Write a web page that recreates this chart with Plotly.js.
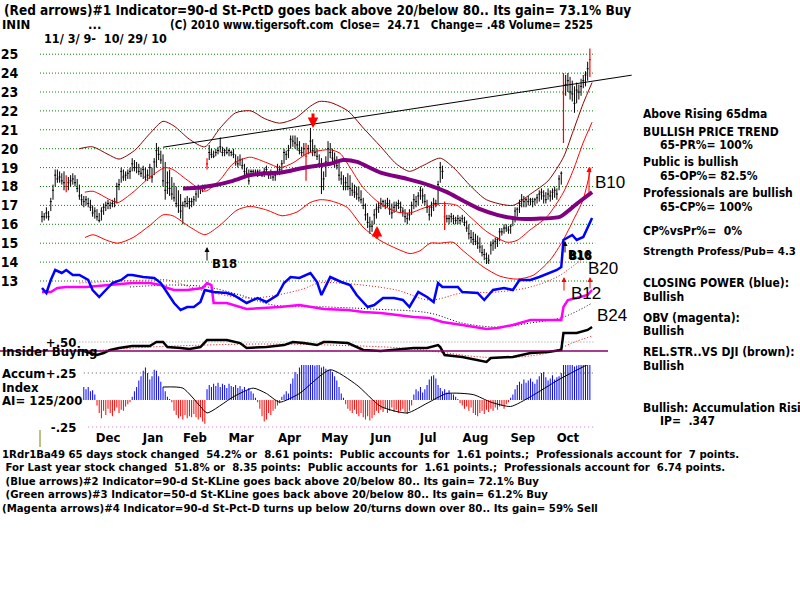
<!DOCTYPE html>
<html><head><meta charset="utf-8">
<script src="https://cdn.plot.ly/plotly-3.0.1.min.js"></script>
<style>html,body{margin:0;padding:0;background:#fff}#chart{width:800px;height:600px}</style>
</head><body><div id="chart"></div>
<script>
// ---------- DATA (trading-day index 0 = 11/3/09 ... 249 = 10/29/10) ----------
const months = ['Dec','Jan','Feb','Mar','Apr','May','Jun','Jul','Aug','Sep','Oct'];
const monthTicks = [30, 50.5, 69.5, 90.5, 112.5, 133, 154, 175.5, 197, 218.5, 239];
const priceTicks = [13,14,15,16,17,18,19,20,21,22,23,24,25];

const closes = [
16.4,16.4,16.6,16.4,17.2,17.8,18.6,18.4,18.5,18.3,
18.2,18.0,18.2,18.3,18.4,18.2,17.9,17.5,17.3,17.2,
17.3,17.1,16.9,16.6,16.7,16.4,16.2,16.7,16.9,17.0,
17.1,17.0,17.1,17.2,18.0,18.1,18.8,18.5,18.6,18.7,
18.8,19.2,19.0,19.0,18.8,18.7,18.9,18.5,18.6,19.0,
18.5,19.3,19.9,19.7,19.4,18.3,17.8,18.2,17.9,17.6,
17.4,17.1,17.0,16.7,17.0,17.2,17.1,17.2,17.2,17.3,
17.6,17.9,17.9,17.9,18.0,19.2,19.8,19.7,19.6,19.8,
19.9,20.1,19.8,19.9,19.8,19.9,19.8,19.7,19.3,19.2,
19.4,19.1,18.8,18.7,18.3,18.8,18.8,18.7,18.8,18.7,
18.6,18.8,18.9,18.6,18.7,18.5,18.6,19.0,18.9,19.2,
19.8,19.7,19.9,20.5,20.4,20.3,20.2,19.9,19.8,20.0,
19.6,20.0,20.4,19.9,19.8,19.6,19.2,18.0,18.4,19.3,
20.0,19.8,19.5,19.4,19.1,18.6,18.4,18.0,18.2,18.0,
17.9,17.8,17.7,17.6,17.4,17.3,17.0,16.5,16.1,15.9,
15.9,16.5,16.8,16.9,17.1,17.2,17.0,17.1,16.8,16.6,
16.9,17.0,17.1,16.9,16.7,16.4,16.3,16.5,17.0,17.3,
17.2,17.5,17.8,17.5,17.2,16.9,16.5,16.9,17.1,17.1,
18.1,19.0,18.8,16.4,16.3,16.3,16.4,16.3,16.2,16.3,
16.2,16.3,16.1,15.8,15.5,15.3,15.2,15.1,15.0,14.8,
14.5,14.4,14.2,14.1,14.9,15.0,15.1,15.2,15.6,15.6,
15.8,15.8,15.7,15.9,16.3,16.7,16.8,17.1,17.3,17.2,
17.3,17.2,17.3,17.2,17.3,17.4,17.6,17.7,17.5,17.3,
17.6,17.5,17.7,17.8,17.6,18.4,18.7,22.9,23.4,23.6,
23.0,22.9,22.4,23.1,23.0,23.3,23.6,23.9,24.23,24.71];
const highs = [
16.7,16.6,16.9,16.7,17.4,18.1,18.9,18.9,18.8,18.7,
18.8,18.6,18.5,18.6,18.7,18.6,18.4,18.1,17.6,17.5,
17.5,17.4,17.3,17.0,16.9,16.8,16.6,16.9,17.1,17.2,
17.3,17.2,17.3,17.4,18.2,18.4,19.0,18.9,18.8,18.9,
19.0,19.5,19.4,19.3,19.2,19.0,19.1,19.0,18.9,19.2,
19.0,19.5,20.3,20.1,19.9,19.7,19.3,18.8,18.9,18.5,
18.2,18.0,17.8,17.6,17.2,17.4,17.5,17.4,17.4,17.5,
17.8,18.1,18.0,18.1,18.1,19.5,20.2,20.0,19.9,20.0,
20.1,20.6,20.1,20.0,20.1,20.0,19.9,20.0,19.7,19.6,
19.7,19.5,19.2,19.0,18.9,18.9,18.9,18.9,18.9,18.9,
18.8,19.0,19.1,18.8,18.9,18.8,18.7,19.2,19.1,19.4,
20.0,19.9,20.2,20.7,20.7,20.7,20.6,20.4,20.1,20.3,
20.3,20.2,21.1,20.5,20.2,20.0,19.7,19.5,18.8,19.6,
20.4,20.3,20.0,19.8,19.6,19.4,18.8,18.6,18.5,18.7,
18.6,18.2,18.1,18.0,18.0,17.8,17.4,17.1,16.6,16.4,
16.2,16.8,17.1,17.2,17.4,17.3,17.3,17.4,17.3,17.1,
17.2,17.2,17.3,17.2,16.9,16.8,16.6,16.8,17.2,17.6,
17.5,17.7,18.0,17.9,17.6,17.3,17.0,17.2,17.4,17.3,
18.3,19.3,19.1,17.2,16.5,16.5,16.6,16.5,16.4,16.5,
16.4,16.5,16.4,16.2,16.0,15.7,15.6,15.5,15.4,15.3,
14.9,14.7,14.5,14.4,15.1,15.2,15.3,15.3,15.8,15.8,
16.0,16.0,15.9,16.0,16.4,16.9,16.9,17.3,17.6,17.5,
17.4,17.5,17.4,17.4,17.4,17.6,17.8,17.9,17.8,17.7,
17.9,17.8,17.9,18.0,17.9,18.6,18.8,24.0,23.9,24.0,
23.8,23.6,23.3,23.5,23.4,23.7,23.9,24.1,24.6,25.3];
const lows = [
16.1,16.2,16.3,16.2,16.7,17.3,18.0,18.2,18.2,18.1,
17.8,17.7,17.8,18.0,18.1,18.0,17.7,17.3,17.0,16.9,
17.0,16.9,16.7,16.4,16.3,16.2,16.1,16.2,16.5,16.7,
16.8,16.8,16.9,16.9,17.1,17.8,18.2,18.3,18.3,18.4,
18.4,18.8,18.8,18.7,18.6,18.5,18.4,18.3,18.3,18.4,
18.2,18.6,19.0,19.4,19.2,18.0,17.3,17.6,17.5,17.3,
17.2,16.9,16.6,16.3,16.0,16.9,16.9,16.8,16.9,17.0,
17.2,17.4,17.6,17.7,17.8,18.9,19.4,19.5,19.5,19.6,
19.7,19.8,19.6,19.6,19.7,19.6,19.6,19.5,19.1,19.0,
19.1,18.9,18.6,18.5,18.1,18.5,18.6,18.6,18.5,18.6,
18.5,18.5,18.6,18.4,18.4,18.3,18.3,18.6,18.6,18.8,
19.2,19.4,19.5,20.0,20.1,20.0,19.9,19.7,19.6,19.6,
18.3,19.7,19.8,19.6,19.6,19.4,19.0,17.6,17.8,18.5,
19.2,19.5,19.2,19.0,18.9,18.3,18.1,17.8,17.8,17.8,
17.5,17.5,17.4,17.3,17.2,17.1,16.8,16.2,15.8,15.5,
15.6,16.0,16.3,16.6,16.8,16.9,16.8,16.9,16.5,16.3,
16.6,16.7,16.8,16.6,16.4,16.1,16.0,16.2,16.5,16.8,
16.9,17.0,17.3,17.1,17.0,16.6,16.2,16.4,16.7,16.9,
17.0,18.2,18.4,15.7,16.1,16.0,16.1,16.0,16.0,16.0,
16.0,16.1,15.9,15.6,15.2,15.0,14.9,14.9,14.7,14.5,
14.3,14.1,13.9,13.9,14.4,14.6,14.7,14.8,15.1,15.4,
15.5,15.6,15.5,15.5,15.9,16.1,16.4,16.6,16.9,16.9,
16.9,17.0,17.0,16.9,17.0,17.1,17.2,17.3,17.1,17.1,
17.3,17.2,17.3,17.4,17.3,17.8,18.1,20.3,22.8,23.0,
22.6,22.5,21.9,22.4,22.6,22.8,23.2,23.3,23.6,23.8];
const signalDays = [11, 75, 120, 183, 237, 249];   // bars drawn red

const upperX = [17,23,30,35,42,49,55,60,67,74,81,88,95,101,108,115,122,126,131,139,146,154,161,167,173,181,187,195,202,214,222,230,237,241,246,250];
const upperY = [20.0,20.1,19.7,19.45,19.9,20.8,21.45,21.2,20.5,20.1,21.1,21.9,22.0,21.6,21.35,21.6,22.25,22.5,22.45,22.0,21.1,20.1,19.2,18.8,19.1,19.5,19.0,18.0,17.3,17.0,17.6,18.3,19.55,20.8,22.4,23.5];
const midX = [19.5,23.2,30.9,34.5,41.4,49.1,55.9,59.5,65.9,74.1,80.9,86.8,94.5,102.3,108.2,114.1,120.5,126.4,130.9,135.5,140,145.9,153.6,161.4,167.3,173.2,180.9,188.6,194.5,202.3,211.4,215.9,221.8,229.5,236.8,241.4,245.9,250];
const midY = [17.7,17.75,17.3,17.15,17.7,18.5,19.0,18.9,18.35,17.75,18.35,19.2,19.55,19.25,19.0,19.25,19.75,19.9,19.95,19.75,19.0,17.95,17.1,16.65,16.6,16.85,17.1,17.0,16.4,15.6,15.05,15.15,15.7,16.4,17.65,18.85,20.3,21.4];
const lowerX = [19.5,23.2,29.5,34.5,41.4,49.1,55,59.5,67.3,74.1,80.9,88.6,94.5,102.3,109.1,115.9,121.8,126.4,130.9,138.6,145.9,153.6,161.4,167.3,171.8,176.4,180.9,186.8,191.4,200.5,208.2,215.9,223.2,230.9,236.8,241.4,245.9,249.5];
const lowerY = [15.3,15.45,15.15,15.0,15.3,15.95,16.5,16.45,15.85,15.45,15.95,16.75,16.95,16.75,16.45,16.65,17.15,17.3,17.25,16.9,15.85,15.15,14.7,14.45,14.6,15.0,15.0,15.05,14.6,13.75,13.25,13.1,13.3,14.1,15.15,16.2,17.3,19.0];
const ma65X = [64.1,71.8,77.7,86.8,94.5,102.3,109.5,117.3,125,130.9,136.8,143.2,153.6,165.9,176.4,184.1,191.4,199.1,206.8,215.9,225,235.5,243.2,250];
const ma65Y = [17.9,17.95,18.05,18.3,18.6,18.7,18.75,18.95,19.1,19.2,19.4,19.3,18.75,18.4,18.05,17.7,17.25,16.8,16.5,16.3,16.3,16.4,17.1,17.7];
const trendX = [55, 268];
const trendY = [20.08, 23.89];

// Closing Power (blue) and OBV (magenta), arbitrary units
const cpX = [0,2,4,6,9,11,14,17,21,23,26,30,32,36,39,41,46,51,54,57,60,63,66,69,72,74,78,84,87,93,98,102,107,110,113,117,122,125,127,131,136,140,143,148,151,155,160,164,167,171,175,178,180,182,189,191,198,201,205,210,214,217,222,226,231,234,236,237,241,243,246,248,250];
const cpY = [57,52,65,75,72,75,70,70,65,55,48,58,62,65,70,70,68,67,62,52,42,35,38,38,43,55,53,52,50,42,47,43,50,62,68,67,72,63,50,68,63,60,50,38,40,47,47,45,38,53,48,43,62,58,58,53,52,45,55,57,55,65,65,68,72,75,78,105,110,105,108,117,127];
const obvX = [0,4,7,11,20,31,41,49,54,57,60,66,73,75,77,78,84,93,102,108,117,123,128,139,146,154,161,169,176,182,191,202,207,214,222,230,236,237,239,243,248,250];
const obvY = [53,53,57,58,58,60,62,62,60,57,55,55,57,62,60,42,42,36,37,38,40,38,36,35,33,32,30,28,27,23,20,16,17,20,25,25,25,38,45,47,50,55];
const cpMaX = [17,35,50,57,72,95,117,126,135,161,176,191,207,222,234,242,249];
const cpMaY = [62,64,65,65,55,47,55,62,62,55,45,52,53,58,68,80,92];
const obvMaX = [40,60,75,90,105,130,150,176,191,207,222,237,250];
const obvMaY = [58,60,58,50,40,38,36,32,22,18,22,28,42];

// Insider buying
const insX = [17,20,25,28,31,35,41,49,52,55,57,63,67,72,75,84,90,93,102,110,114,119,125,128,131,139,146,154,161,169,175,180,181,183,191,198,202,204,214,222,230,236,237,243,248,250];
const insY = [0.06,-0.06,-0.22,-0.11,0.06,0.17,0.28,0.28,0.5,0.5,0.22,0.17,0.11,0.22,0.61,0.61,0.44,0.17,0.22,0.33,0.5,0.44,0.33,0.5,0.5,0.44,0.06,0.0,0.06,0.17,0.17,0.33,0.22,-0.22,-0.33,-0.5,-0.61,-0.39,-0.33,-0.11,-0.06,0.06,1.0,1.0,1.17,1.33];
const insMaX = [22,49,74,99,131,163,181,199,217,231,242,250];
const insMaY = [0.0,0.22,0.33,0.39,0.33,0.17,-0.06,-0.33,-0.33,-0.06,0.5,0.83];

// Accumulation Index (daily from day 19)
const aiStart = 19;
const aiValues = [
0.12,0.10,0.12,0.08,0.09,0.05,
-0.05,-0.12,-0.17,
-0.10,-0.14,-0.08,-0.12,-0.15,-0.10,-0.07,-0.12,-0.09,-0.10,-0.06,-0.04,
-0.02,
0.03,0.08,0.12,0.18,0.22,0.27,0.30,
0.25,0.19,0.22,
0.28,0.27,0.22,
0.17,0.12,0.08,0.03,
0.01,-0.02,
-0.10,-0.14,-0.17,-0.15,-0.18,-0.14,-0.17,-0.15,-0.16,-0.13,-0.16,-0.18,-0.16,-0.20,-0.22,
0.10,0.14,0.12,0.15,
0.13,0.16,0.12,0.15,0.14,0.11,0.15,0.13,0.12,0.14,0.11,0.13,0.10,0.12,0.09,0.11,0.08,0.06,
0.02,-0.02,
-0.08,-0.15,-0.20,-0.18,-0.12,-0.14,-0.10,-0.08,-0.05,-0.03,
0.03,0.05,0.08,0.06,
0.15,0.20,0.26,0.24,0.30,0.34,0.36,0.33,0.35,0.37,0.34,0.32,0.36,0.33,0.30,0.31,0.29,0.28,
0.28,0.26,0.22,0.18,0.12,0.06,0.02,
-0.04,-0.08,-0.10,-0.12,-0.09,-0.13,-0.15,-0.12,-0.16,-0.18,-0.15,-0.19,-0.17,-0.14,-0.10,-0.12,-0.09,-0.11,-0.08,-0.12,-0.10,-0.07,-0.11,-0.09,-0.12,-0.10,-0.08,-0.11,-0.13,-0.10,-0.05,
0.05,0.10,0.08,0.12,0.07,0.10,0.14,0.19,0.22,0.23,0.20,
0.14,0.11,0.08,0.10,0.07,0.09,0.06,0.05,0.03,0.01,
-0.03,-0.05,-0.08,-0.06,-0.10,-0.07,-0.12,-0.14,-0.15,-0.12,-0.10,-0.13,-0.09,-0.11,-0.08,-0.10,-0.07,-0.09,-0.06,-0.05,-0.08,-0.04,-0.02,
0.02,0.05,
0.10,0.14,0.17,0.15,0.19,0.16,0.18,0.20,0.17,0.15,0.19,0.22,0.25,0.26,0.21,0.18,0.20,0.23,0.19,0.21,0.22,
0.25,0.62,
0.40,0.36,0.33,0.35,0.31,0.32,0.34,0.33,0.36,0.35,0.37,0.36];
const aiMaX = [55,64,72,75,87,96,102,108,117,131,143,154,166,175,184,196,204,213,222,235,250];
const aiMaY = [0.12,0.11,-0.06,-0.12,0.03,0.11,0.06,-0.02,0.06,0.28,0.14,-0.06,-0.12,-0.03,0.06,0.05,-0.02,-0.06,0.03,0.19,0.35];

// ---------- BUILD ----------
const F = "'Liberation Sans Narrow','Arial Narrow','DejaVu Sans Condensed',sans-serif";
const FA = "'Liberation Sans',Arial,sans-serif";
const W = 800, H = 600;
const px = x => x / W, py = y => 1 - y / H;
const nb = s => s.replace(/ /g, '\u00a0');

const days = closes.map((_, i) => i);
const isSig = i => signalDays.indexOf(i) >= 0;
const pick = (arr, keep) => arr.filter((_, i) => keep(i));
const normal = i => !isSig(i);

const traces = [];
const band = (x, y, color, w) => ({type:'scatter', mode:'lines', x, y, xaxis:'x', yaxis:'y', hoverinfo:'skip',
  line:{color, width:w, shape:'spline', smoothing:0.7}});
traces.push(band(upperX, upperY, '#8b0000', 1));
traces.push(band(midX, midY, '#ff0000', 1));
traces.push(band(lowerX, lowerY, '#ff0000', 1));

traces.push({type:'ohlc', x:pick(days, normal), open:pick(closes, normal), high:pick(highs, normal),
  low:pick(lows, normal), close:pick(closes, normal), xaxis:'x', yaxis:'y', tickwidth:0.45, hoverinfo:'skip',
  increasing:{line:{color:'#000', width:1}}, decreasing:{line:{color:'#000', width:1}}});
traces.push({type:'ohlc', x:pick(days, isSig), open:pick(closes, isSig), high:pick(highs, isSig),
  low:pick(lows, isSig), close:pick(closes, isSig), xaxis:'x', yaxis:'y', tickwidth:0.45, hoverinfo:'skip',
  increasing:{line:{color:'#ff0000', width:1.2}}, decreasing:{line:{color:'#ff0000', width:1.2}}});

traces.push({type:'scatter', mode:'lines', x:ma65X, y:ma65Y, xaxis:'x', yaxis:'y', hoverinfo:'skip',
  line:{color:'#800080', width:4, shape:'spline', smoothing:0.6}});
traces.push({type:'scatter', mode:'lines', x:trendX, y:trendY, xaxis:'x', yaxis:'y', hoverinfo:'skip',
  line:{color:'#000', width:1}});

// indicator panel (overlapping)
traces.push({type:'scatter', mode:'lines', x:cpMaX, y:cpMaY, xaxis:'x', yaxis:'y2', hoverinfo:'skip',
  line:{color:'#ff0000', width:1, dash:'1px,2px', shape:'spline'}});
traces.push({type:'scatter', mode:'lines', x:obvMaX, y:obvMaY, xaxis:'x', yaxis:'y2', hoverinfo:'skip',
  line:{color:'#000', width:1, dash:'1px,2px', shape:'spline'}});
traces.push({type:'scatter', mode:'lines', x:obvX, y:obvY, xaxis:'x', yaxis:'y2', hoverinfo:'skip',
  line:{color:'#ff00ff', width:2.5}});
traces.push({type:'scatter', mode:'lines', x:cpX, y:cpY, xaxis:'x', yaxis:'y2', hoverinfo:'skip',
  line:{color:'#0000ff', width:2.5}});

// insider
traces.push({type:'scatter', mode:'lines', x:insMaX, y:insMaY, xaxis:'x', yaxis:'y3', hoverinfo:'skip',
  line:{color:'#ff0000', width:1, dash:'1px,2px', shape:'spline'}});
traces.push({type:'scatter', mode:'lines', x:insX, y:insY, xaxis:'x', yaxis:'y3', hoverinfo:'skip',
  line:{color:'#000', width:2.5}});

// accumulation
const aiX = aiValues.map((_, k) => aiStart + k);
traces.push({type:'bar', x:aiX, y:aiValues, width:0.45, xaxis:'x', yaxis:'y4', hoverinfo:'skip',
  marker:{color:aiValues.map(v => v >= 0 ? '#0000ff' : '#ff0000'), line:{width:0}}});
traces.push({type:'scatter', mode:'lines', x:aiMaX, y:aiMaY, xaxis:'x', yaxis:'y4', hoverinfo:'skip',
  line:{color:'#000', width:1, shape:'spline', smoothing:0.6}});

// ---------- LAYOUT ----------
const shapes = priceTicks.map(t => ({type:'line', xref:'x', yref:'y', x0:-0.9, x1:251.4, y0:t, y1:t, layer:'below',
  line:{color:'#008000', width:1, dash:'1px,2px'}}));
shapes.push({type:'line', xref:'x', yref:'y3', x0:17, x1:251.4, y0:0.5, y1:0.5, layer:'below', line:{color:'#999', width:1, dash:'1px,2px'}});
shapes.push({type:'line', xref:'paper', yref:'y3', x0:0, x1:px(608), y0:0, y1:0, line:{color:'#880066', width:1.5}});
shapes.push({type:'line', xref:'x', yref:'y4', x0:19, x1:251.4, y0:0.25, y1:0.25, layer:'below', line:{color:'#555', width:1, dash:'1px,3px'}});
shapes.push({type:'line', xref:'x', yref:'y4', x0:21, x1:251.4, y0:-0.25, y1:-0.25, layer:'below', line:{color:'#cc66cc', width:1, dash:'1px,3px'}});
shapes.push({type:'line', xref:'paper', yref:'paper', x0:px(40), x1:px(40), y0:py(430), y1:py(447), line:{color:'#808000', width:1}});

const ann = [];
const T = (text, x, y, size, extra) => ann.push(Object.assign({xref:'paper', yref:'paper', x:px(x), y:py(y),
  xanchor:'left', yanchor:'middle', showarrow:false, text:nb(text),
  font:{family:F, size:size || 12, color:'#000', weight:700}}, extra || {}));

T('(Red arrows)#1 Indicator=90-d St-PctD goes back above 20/below 80.. Its gain= 73.1% Buy', 2, 10, 13.5);
T('ININ', 0, 25, 13);
T('...', 86, 25, 13);
T('(C) 2010 www.tigersoft.com', 168, 25, 11.5);
T('Close=  24.71   Change= .48 Volume= 2525', 338, 25, 11.5);
T('11/ 3/ 9-  10/ 29/ 10', 42, 39, 12.5);

const BS = 11.3;
T('1Rdr1Ba49 65 days stock changed  54.2% or  8.61 points:  Public accounts for  1.61 points.;  Professionals account for  7 points.', 0, 454, BS);
T(' For Last year stock changed  51.8% or  8.35 points:  Public accounts for  1.61 points.;  Professionals account for  6.74 points.', 0, 467, BS);
T(' (Blue arrows)#2 Indicator=90-d St-KLine goes back above 20/below 80.. Its gain= 72.1% Buy', 0, 481, BS);
T(' (Green arrows)#3 Indicator=50-d St-KLine goes back above 20/below 80.. Its gain= 61.2% Buy', 0, 494, BS);
T('(Magenta arrows)#4 Indicator=90-d St-Pct-D turns up below 20/turns down over 80.. Its gain= 59% Sell', 0, 508, BS);

T('Above Rising 65dma', 641, 114);
T('BULLISH PRICE TREND', 641, 132);
T('65-PR%= 100%', 658, 145);
T('Public is bullish', 641, 162);
T('65-OP%= 82.5%', 658, 176);
T('Professionals are bullish', 641, 193);
T('65-CP%= 100%', 658, 207);
T('CP%vsPr%=  0%', 641, 231);
T('Strength Profess/Pub= 4.3', 641, 252, 11.3);
T('CLOSING POWER (blue):', 641, 283);
T('Bullish', 641, 297);
T('OBV (magenta):', 641, 318);
T('Bullish', 641, 331);
T('REL.STR..VS DJI (brown):', 641, 352);
T('Bullish', 641, 366);
T('Bullish: Accumulation Rising', 641, 408);
T('IP=  .347', 658, 421);

T('Insider Buying', 0, 351, 13);
T('Accum', 0, 373, 13);
T('Index', 0, 387, 13);
T('AI= 125/200', 0, 400, 13);

const big = {font:{family:FA, size:17, color:'#000', weight:400}};
T('B10', 593, 183, 17, big);
T('B20', 586, 268, 17, big);
T('B12', 569, 293, 17, big);
T('B24', 595, 315, 17, big);
T('B16', 566, 255, 12);
T('B18', 567, 256, 12);
T('B18', 210, 263, 13);

const A = (x, y, ax, ay, color, w) => ann.push({xref:'paper', yref:'paper', x:px(x), y:py(y), ax, ay, text:'',
  showarrow:true, arrowhead:2, arrowsize:w > 1.5 ? 0.7 : 1, arrowwidth:w, arrowcolor:color});
A(313, 128, 0, -16, '#ff0000', 3);
A(377, 226, 0, 14, '#ff0000', 3);
A(207, 247, 0, 15, '#000', 1);
A(589, 167, 0, 28, '#ff0000', 1);
A(564, 277, 0, 15, '#ff0000', 1);
A(590, 277, 0, 13, '#ff0000', 1);
A(565, 241, 0, 13, '#000', 1);

const tickTxt = {family:F, size:14, color:'#000', weight:700};
const layout = {
  width:W, height:H, margin:{l:0, r:0, t:0, b:0}, showlegend:false,
  paper_bgcolor:'#fff', plot_bgcolor:'rgba(0,0,0,0)',
  xaxis:{domain:[px(40), 1], range:[-0.909, 344.5], anchor:'y4', tickvals:monthTicks, ticktext:months,
    ticks:'', showgrid:false, zeroline:false, showline:false,
    tickfont:{family:F, size:13, color:'#000', weight:700}, rangeslider:{visible:false}, fixedrange:true},
  yaxis:{domain:[py(290), py(40)], range:[12.524, 25.751], anchor:'x', tickvals:priceTicks,
    ticks:'outside', ticklen:18, tickcolor:'rgba(0,0,0,0)', showgrid:false, zeroline:false, showline:false, tickfont:tickTxt},
  yaxis2:{domain:[py(345), py(200)], range:[0, 145], anchor:'x', visible:false},
  yaxis3:{domain:[py(372), py(322)], range:[-21/18, 29/18], anchor:'free', position:px(80), tickvals:[0.5], ticktext:['+.50'],
    ticks:'outside', ticklen:1, tickcolor:'rgba(0,0,0,0)', showgrid:false, zeroline:false, showline:false,
    tickfont:{family:F, size:13, color:'#000', weight:700}},
  yaxis4:{domain:[py(428), py(365)], range:[-28/108, 35/108], anchor:'free', position:px(80), tickvals:[0.25, -0.25], ticktext:['+.25','-.25'],
    ticks:'outside', ticklen:1, tickcolor:'rgba(0,0,0,0)', showgrid:false, zeroline:false, showline:false,
    tickfont:{family:F, size:13, color:'#000', weight:700}},
  shapes, annotations:ann
};
Plotly.newPlot('chart', traces, layout, {staticPlot:true, displayModeBar:false});
</script></body></html>
